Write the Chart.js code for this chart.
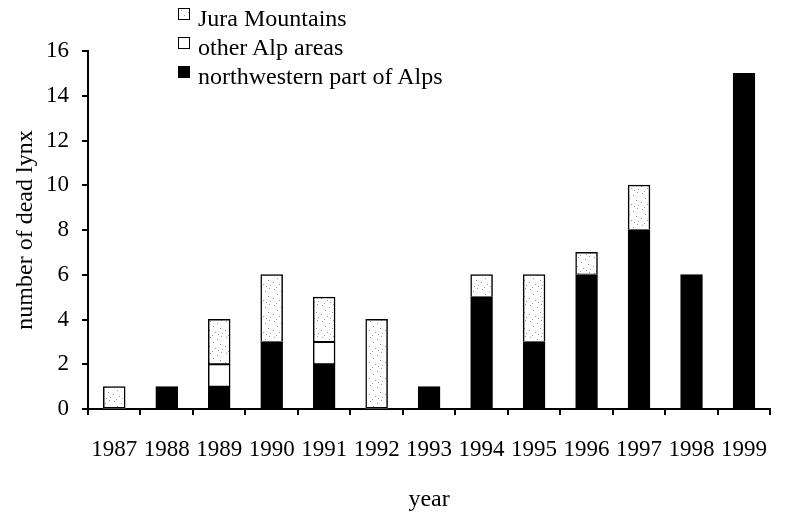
<!DOCTYPE html>
<html lang="en">
<head>
  <meta charset="UTF-8">
  <title>Dead lynx per year</title>
  <script src="https://cdn.jsdelivr.net/npm/chart.js"></script>
  <style>
    html, body {
      margin: 0;
      padding: 0;
      background: #fff;
    }
    #wrap {
      position: relative;
      width: 785px;
      height: 512px;
      overflow: hidden;
    }
    #legend {
      position: absolute;
      left: 178px;
      top: 0;
      font-family: "Liberation Serif", "Times New Roman", serif;
      font-size: 24px;
      color: #000;
    }
    .row {
      position: relative;
      height: 29px;
      width: 270px;
    }
    .box {
      position: absolute;
      left: 0;
      top: 8px;
      width: 10px;
      height: 10px;
      border: 1.5px solid #000;
    }
    .txt {
      position: absolute;
      left: 20px;
      top: 6px;
      line-height: 24px;
      white-space: nowrap;
    }
  </style>
</head>
<body>

  <div id="wrap">
    <canvas id="lynx" width="790" height="512"></canvas>
    <div id="legend"></div>
  </div>

  <script>
    const years = ['1987', '1988', '1989', '1990', '1991', '1992', '1993',
                   '1994', '1995', '1996', '1997', '1998', '1999'];
    const northwestAlps = [0, 1, 1, 3, 2, 0, 1, 5, 3, 6, 8, 6, 15];
    const otherAlps     = [0, 0, 1, 0, 1, 0, 0, 0, 0, 0, 0, 0, 0];
    const jura          = [1, 0, 2, 3, 2, 4, 0, 1, 3, 1, 2, 0, 0];
    const yTicks = [0, 2, 4, 6, 8, 10, 12, 14, 16];

    const serif = '"Liberation Serif", "Times New Roman", serif';

    // stippled fill for the Jura bars
    const dots = document.createElement('canvas');
    dots.width = 16;
    dots.height = 16;
    const dctx = dots.getContext('2d');
    dctx.fillStyle = '#fff';
    dctx.fillRect(0, 0, 16, 16);
    dctx.fillStyle = '#9a9a9a';
    [[2, 1], [9, 3], [13, 0], [5, 6], [12, 8], [1, 10], [7, 12], [14, 13], [4, 15], [10, 14]]
      .forEach(([x, y]) => dctx.fillRect(x, y, 1, 1));
    const stipple = dctx.createPattern(dots, 'repeat');

    const datasets = [
      { label: 'northwestern part of Alps', data: northwestAlps, backgroundColor: '#000', legendCss: '#000' },
      { label: 'other Alp areas', data: otherAlps, backgroundColor: '#fff', legendCss: '#fff' },
      { label: 'Jura Mountains', data: jura, backgroundColor: stipple, legendCss: 'url(' + dots.toDataURL() + ')' }
    ];

    // legend, top to bottom
    const legend = document.getElementById('legend');
    datasets.slice().reverse().forEach(ds => {
      const row = document.createElement('div');
      row.className = 'row';
      row.innerHTML = '<span class="box" style="background:' + ds.legendCss + '"></span>' +
                      '<span class="txt">' + ds.label + '</span>';
      legend.appendChild(row);
    });

    new Chart(document.getElementById('lynx'), {
      type: 'bar',
      data: {
        labels: years,
        datasets: datasets.map(ds => ({
          label: ds.label,
          data: ds.data,
          backgroundColor: ds.backgroundColor,
          borderColor: '#000',
          // empty segments get no outline
          borderWidth: ctx => (ctx.raw ? 1.5 : 0),
          borderSkipped: false,
          inflateAmount: 0.5,
          barPercentage: 0.41,
          categoryPercentage: 1
        }))
      },
      options: {
        responsive: false,
        animation: false,
        layout: { padding: { top: 51, left: 0, right: 0, bottom: 0 } },
        plugins: {
          legend: { display: false },
          tooltip: { enabled: false }
        },
        scales: {
          x: {
            stacked: true,
            afterFit: s => { s.height = 103; },
            grid: {
              offset: true,
              drawOnChartArea: false,
              tickLength: 6,
              color: '#000',
              lineWidth: 2
            },
            border: { color: '#000', width: 2 },
            ticks: {
              color: '#000',
              font: { family: serif, size: 23, lineHeight: 1 },
              padding: 23,
              maxRotation: 0,
              autoSkip: false
            },
            title: {
              display: true,
              text: 'year',
              color: '#000',
              font: { family: serif, size: 24, lineHeight: 1 },
              padding: { top: 0, bottom: 0 }
            }
          },
          y: {
            stacked: true,
            min: 0,
            max: 16,
            afterFit: s => { s.width = 88; },
            afterBuildTicks: s => { s.ticks = yTicks.map(v => ({ value: v })); },
            grid: {
              drawOnChartArea: false,
              tickLength: 6,
              color: '#000',
              lineWidth: 2
            },
            border: { color: '#000', width: 2 },
            ticks: {
              color: '#000',
              font: { family: serif, size: 23, lineHeight: 1 },
              padding: 13
            },
            title: {
              display: true,
              text: 'number of dead lynx',
              color: '#000',
              font: { family: serif, size: 24, lineHeight: 1 },
              padding: { top: 14, bottom: 0 }
            }
          }
        }
      }
    });
  </script>

</body>
</html>
